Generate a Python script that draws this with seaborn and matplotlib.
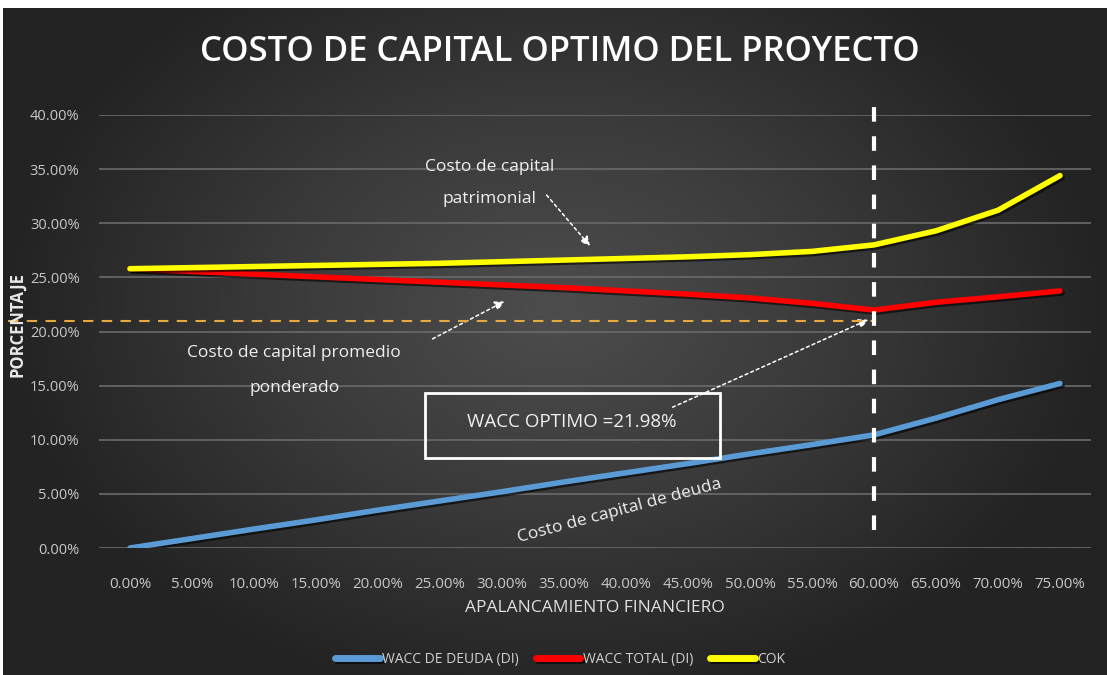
import numpy as np
import pandas as pd
import matplotlib
matplotlib.use("Agg")
import matplotlib.pyplot as plt
import seaborn as sns
from matplotlib.patches import Rectangle
import matplotlib.patheffects as pe

# datos (en %)
apalancamiento = ["0.00%", "5.00%", "10.00%", "15.00%", "20.00%", "25.00%", "30.00%", "35.00%",
                  "40.00%", "45.00%", "50.00%", "55.00%", "60.00%", "65.00%", "70.00%", "75.00%"]
wacc_deuda = [0.00, 0.87, 1.75, 2.60, 3.50, 4.35, 5.20, 6.10,
              6.95, 7.80, 8.70, 9.55, 10.45, 12.00, 13.70, 15.20]
wacc_total = [25.80, 25.55, 25.30, 25.05, 24.80, 24.55, 24.30, 24.05,
              23.75, 23.45, 23.10, 22.60, 21.98, 22.70, 23.20, 23.75]
cok = [25.80, 25.90, 26.00, 26.10, 26.20, 26.30, 26.45, 26.60,
       26.75, 26.90, 27.10, 27.40, 28.00, 29.30, 31.20, 34.40]
y_ticks = [0, 5, 10, 15, 20, 25, 30, 35, 40]
idx_optimo = 12
wacc_optimo = 21.98
linea_ref = 21.0

sns.set_theme(style="dark")
plt.rcParams["font.family"] = ["Open Sans", "DejaVu Sans"]

df = pd.DataFrame({"pos": range(len(apalancamiento)), "deuda": wacc_deuda,
                   "total": wacc_total, "cok": cok})

fig = plt.figure(figsize=(11.07, 6.75), dpi=100, facecolor="white")

# fondo degradado oscuro
bg = fig.add_axes([3 / 1107, 0, 1 - 3 / 1107, 1 - 8 / 675])
yy, xx = np.mgrid[-1:1:300j, -1:1:500j]
r = np.sqrt((xx / 1.0) ** 2 + ((yy + 0.1) / 1.2) ** 2)
grad = np.clip(1 - r, 0, 1)
bg.imshow(grad, cmap=matplotlib.colors.LinearSegmentedColormap.from_list(
    "g", ["#232323", "#3a3a3a", "#4d4d4d"]), aspect="auto", extent=[0, 1, 0, 1])
bg.set_axis_off()

ax = fig.add_axes([99 / 1107, 1 - 548 / 675, 992 / 1107, 433 / 675])
ax.set_facecolor("none")
ax.set_xlim(-0.5, len(apalancamiento) - 0.5)
ax.set_ylim(0, 40)
ax.set_yticks(y_ticks)
ax.set_yticklabels([f"{v:.2f}%" for v in y_ticks])
ax.set_xticks(df["pos"])
ax.set_xticklabels(apalancamiento)
for s in ax.spines.values():
    s.set_visible(False)
ax.grid(axis="y", color="#6a6a6a", linewidth=1.2)
ax.tick_params(axis="y", colors="#c8c8c8", labelsize=10.5, pad=14, length=0)
ax.tick_params(axis="x", colors="#c8c8c8", labelsize=10.8, pad=21, length=0)

shadow = [pe.SimpleLineShadow(offset=(1.5, -1.5), shadow_color="black", alpha=0.6), pe.Normal()]
sns.lineplot(data=df, x="pos", y="deuda", ax=ax, color="#5b9bd5", linewidth=4,
             label="WACC DE DEUDA (DI)", path_effects=shadow)
sns.lineplot(data=df, x="pos", y="total", ax=ax, color="#ff0000", linewidth=4,
             label="WACC TOTAL (DI)", path_effects=shadow)
sns.lineplot(data=df, x="pos", y="cok", ax=ax, color="#ffff00", linewidth=4,
             label="COK", path_effects=shadow)
ax.set_xlabel("APALANCAMIENTO FINANCIERO", color="#e0e0e0", fontsize=12.5, labelpad=6)
ax.set_ylabel("")

# lineas de referencia
ax.plot([idx_optimo, idx_optimo], [1.7, 41.4], color="white", linewidth=3,
        linestyle=(0, (3.5, 3.5)), clip_on=False, zorder=5)
x0 = ax.get_xlim()[0] - 91 / 62
ax.plot([x0, idx_optimo], [linea_ref, linea_ref], color="#e6a840", linewidth=1.5,
        linestyle=(0, (5, 4)), clip_on=False, zorder=4)

txt = dict(color="#f0f0f0", fontsize=12.5, ha="center", va="center")
ax.text(5.8, 33.7, "Costo de capital\n\npatrimonial", linespacing=1.0, **txt)
ax.text(2.65, 16.4, "Costo de capital promedio\n\nponderado", linespacing=1.1, **txt)
ax.text(7.9, 3.4, "Costo de capital de deuda", rotation=15, **txt)

arr = dict(arrowstyle="-|>", color="white", linestyle=(0, (2, 2)), linewidth=1.1,
           mutation_scale=14)
ax.annotate("", xy=(7.45, 27.7), xytext=(6.69, 32.8), arrowprops=arr)
ax.annotate("", xy=(6.08, 22.9), xytext=(4.84, 19.2), arrowprops=arr)
ax.annotate("", xy=(idx_optimo - 0.05, linea_ref + 0.2), xytext=(8.71, 12.9), arrowprops=arr)

ax.add_patch(Rectangle((4.76, 8.3), 4.76, 6.0, fill=False, edgecolor="white", linewidth=2, zorder=6))
ax.text(7.13, 11.6, f"WACC OPTIMO ={wacc_optimo:.2f}%", color="#f0f0f0", fontsize=13.5,
        ha="center", va="center")

fig.text(0.506, 0.923, "COSTO DE CAPITAL OPTIMO DEL PROYECTO", color="white", fontsize=25,
         ha="center", va="center", fontweight="semibold")
fig.text(17 / 1107, 1 - 325 / 675, "PORCENTAJE", color="#e8e8e8", fontsize=12,
         rotation=90, ha="center", va="center", fontweight="bold")

leg = ax.legend(loc="center", bbox_to_anchor=(0.465, -0.258), ncol=3, frameon=False,
                fontsize=10, handlelength=3.2, handletextpad=0.2, columnspacing=1.2)
for t in leg.get_texts():
    t.set_color("#d0d0d0")
for h in leg.get_lines():
    h.set_linewidth(5)

fig.savefig("out.png", dpi=100, facecolor=fig.get_facecolor())
